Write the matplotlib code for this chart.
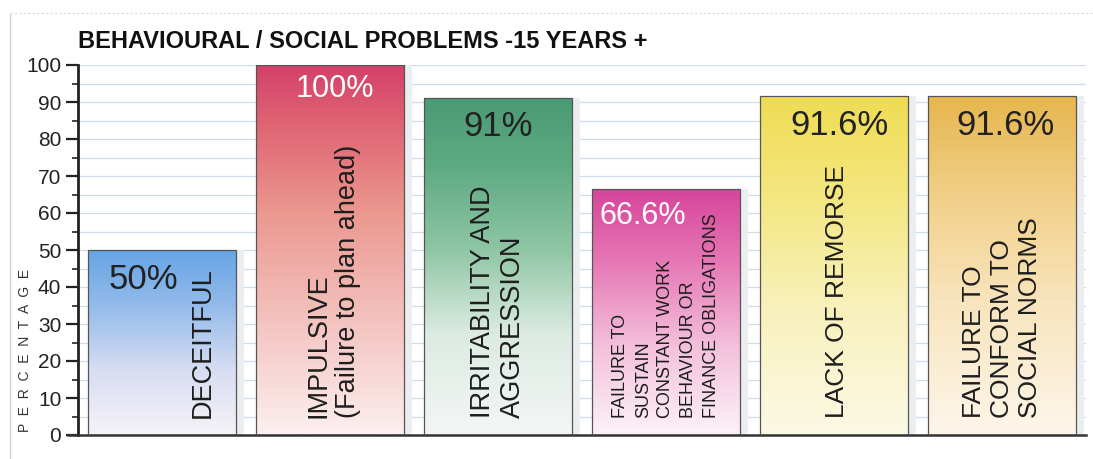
import matplotlib
matplotlib.use("Agg")
import matplotlib.pyplot as plt
import numpy as np
from matplotlib import font_manager
from matplotlib.colors import to_rgb
from matplotlib.lines import Line2D

# ---------------- data ----------------
title = "BEHAVIOURAL / SOCIAL PROBLEMS -15 YEARS +"
categories = [
    "DECEITFUL",
    "IMPULSIVE\n(Failure to plan ahead)",
    "IRRITABILITY AND\nAGGRESSION",
    "FAILURE TO\nSUSTAIN\nCONSTANT WORK\nBEHAVIOUR OR\nFINANCE OBLIGATIONS",
    "LACK OF REMORSE",
    "FAILURE TO\nCONFORM TO\nSOCIAL NORMS",
]
values = [50, 100, 91, 66.6, 91.6, 91.6]
value_labels = ["50%", "100%", "91%", "66.6%", "91.6%", "91.6%"]
y_ticks = list(range(0, 101, 10))
y_label = "P  E  R  C  E  N  T  A  G  E"

# ---------------- style ----------------
names = {f.name for f in font_manager.fontManager.ttflist}
NARROW = "Liberation Sans Narrow" if "Liberation Sans Narrow" in names else "Liberation Sans"
REG = "Liberation Sans"

gradients = [
    [(0.0, "#f6f3f8"), (0.35, "#d8ddf2"), (0.7, "#93bbea"), (1.0, "#66a4e5")],
    [(0.0, "#fcf0f0"), (0.3, "#f4c4c0"), (0.6, "#eb9890"), (0.85, "#df6272"), (1.0, "#d4406a")],
    [(0.0, "#f4f6f6"), (0.3, "#dcebe2"), (0.55, "#8fc6a4"), (0.8, "#5eaa82"), (1.0, "#4a9a74")],
    [(0.0, "#fcf2f8"), (0.35, "#f4c2dc"), (0.7, "#e678b6"), (1.0, "#d6449a")],
    [(0.0, "#fcf9e6"), (0.4, "#f8f0b8"), (0.75, "#f3e578"), (1.0, "#efdc54")],
    [(0.0, "#fdf6ea"), (0.4, "#f8e4bc"), (0.75, "#f0cc80"), (1.0, "#e6b64e")],
]
value_colors = ["#222222", "white", "#222222", "white", "#222222", "#222222"]
value_sizes = [25, 22, 25, 22, 25, 25]
value_dx = [-0.11, 0.03, 0.0, -0.14, 0.03, 0.02]
value_y = [42.0, 93.5, 83.3, 59.2, 83.6, 83.6]
label_dx = [0.24, 0.02, 0.0, 0.0, 0.02, 0.0]
label_sizes = [19.5, 19.5, 19.5, 13, 19, 19]
label_pitch = [0.0, 0.175, 0.175, 0.134, 0.0, 0.165]   # line pitch in x data units
bar_width = 0.88

fig = plt.figure(figsize=(10.93, 4.59), dpi=100, facecolor="white")
ax = fig.add_axes([78 / 1093, 1 - 435 / 459, (1086 - 78) / 1093, (435 - 65) / 459])
ax.set_xlim(-0.5, 5.5)
ax.set_ylim(0, 100)

for g in np.arange(5, 100.1, 5):
    ax.axhline(g, color="#cfdbe7", lw=0.9, zorder=0)

x = np.arange(len(values))
bars = ax.bar(x, values, width=bar_width, facecolor="none",
              edgecolor="#555555", linewidth=0.9, zorder=3)

for i, (b, stops) in enumerate(zip(bars, gradients)):
    n = 256
    t = np.linspace(0, 1, n)
    pos = [s[0] for s in stops]
    cols = np.array([to_rgb(s[1]) for s in stops])
    img = np.stack([np.interp(t, pos, cols[:, k]) for k in range(3)], axis=-1)
    img = img[::-1][:, None, :]
    x0 = b.get_x()
    w = b.get_width()
    h = b.get_height()
    ax.fill_between([x0 + w, x0 + w + 0.05], 0, h, color="#ebedf0", zorder=1, lw=0)
    im = ax.imshow(img, extent=[x0, x0 + w, 0, h], aspect="auto", zorder=2,
                   interpolation="bilinear")
    im.set_clip_path(b)

for i in range(len(values)):
    ax.text(x[i] + value_dx[i], value_y[i], value_labels[i], ha="center", va="center",
            fontsize=value_sizes[i], family=REG, color=value_colors[i], zorder=5)
    lines = categories[i].split("\n")
    nl = len(lines)
    for j, line in enumerate(lines):
        off = (j - (nl - 1) / 2) * label_pitch[i]
        ax.text(x[i] + label_dx[i] + off, 4.5, line, rotation=90, ha="center", va="bottom",
                fontsize=label_sizes[i], family=NARROW, color="#1e1e1e", zorder=5)

for s in ["top", "right"]:
    ax.spines[s].set_visible(False)
ax.spines["left"].set_linewidth(2.0)
ax.spines["left"].set_color("#222222")
ax.spines["bottom"].set_linewidth(1.8)
ax.spines["bottom"].set_color("#333333")
ax.set_xticks([])
ax.set_yticks(y_ticks)
ax.set_yticks(np.arange(5, 100, 5), minor=True)
ax.tick_params(axis="y", which="major", length=9, width=1.6, color="#222222",
               labelsize=15, pad=3)
ax.tick_params(axis="y", which="minor", length=4, width=1.2, color="#222222")
for lbl in ax.get_yticklabels():
    lbl.set_family(NARROW)
    lbl.set_color("#222222")

ax.add_line(Line2D([-0.56, -0.5], [0, 0], color="#333333", lw=1.8, clip_on=False))

fig.text(25 / 1093, 1 - 350 / 459, y_label, rotation=90, ha="center", va="center",
         fontsize=10, family=REG, color="#333333")
fig.text(78 / 1093, 1 - 42 / 459, title, ha="left", va="center", fontsize=17,
         family=NARROW, weight="bold", color="#111111")

fig.add_artist(Line2D([10 / 1093, 10 / 1093], [0, 1 - 14 / 459], transform=fig.transFigure,
                      color="#d0d0d0", lw=1.0))
fig.add_artist(Line2D([10 / 1093, 1], [1 - 13 / 459, 1 - 13 / 459], transform=fig.transFigure,
                      color="#d8d8d8", lw=0.8, ls=(0, (2, 2))))

fig.savefig("out.png", dpi=100, facecolor="white")
